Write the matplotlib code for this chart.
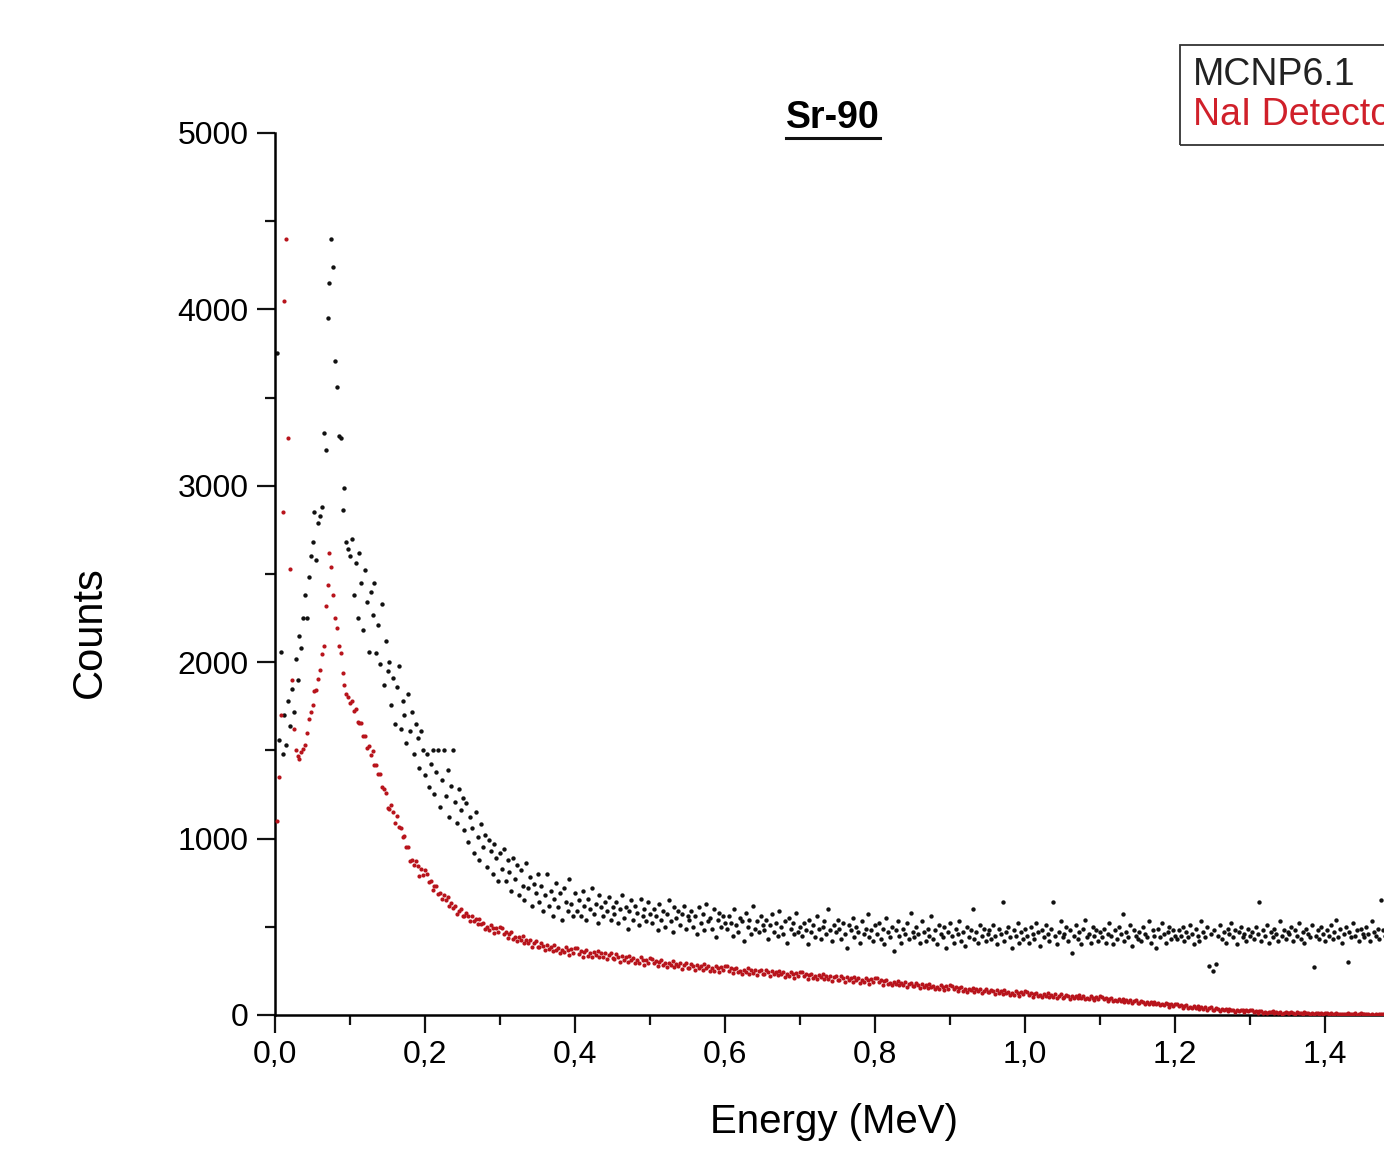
import numpy as np
import matplotlib
matplotlib.use("Agg")
import matplotlib.pyplot as plt
from matplotlib.ticker import MultipleLocator, FuncFormatter
from matplotlib.patches import Rectangle
from matplotlib.lines import Line2D

plt.rcParams['font.family'] = ['Liberation Sans', 'DejaVu Sans']

# spectrum channels, 0.0025 MeV wide
channel_width = 0.0025

# MCNP6.1 simulated counts per channel
mcnp_counts = [
    3750, 1560, 2060, 1480, 1700, 1530, 1780, 1640, 1850, 1720, 2020, 1900, 2150, 2080, 2250, 2380, 2250, 2480, 2600, 2680,
    2850, 2580, 2790, 2830, 2880, 3300, 3200, 3950, 4150, 4400, 4240, 3710, 3560, 3280, 3270, 2860, 2990, 2680, 2640, 2600,
    2700, 2380, 2560, 2250, 2620, 2450, 2180, 2520, 2340, 2060, 2400, 2270, 2450, 2050, 2210, 1990, 2330, 1870, 2120, 1950,
    2000, 1760, 1910, 1650, 1860, 1980, 1620, 1780, 1700, 1540, 1820, 1610, 1720, 1480, 1650, 1570, 1400, 1610, 1500, 1360,
    1480, 1290, 1420, 1500, 1250, 1380, 1500, 1180, 1330, 1500, 1240, 1390, 1120, 1300, 1500, 1210, 1090, 1280, 1160, 1230,
    1050, 1200, 980, 1120, 1060, 920, 1150, 1010, 880, 1080, 950, 1020, 840, 990, 930, 800, 970, 890, 760, 920,
    830, 940, 760, 880, 810, 700, 890, 770, 850, 680, 820, 730, 650, 860, 720, 780, 620, 740, 690, 800,
    640, 730, 590, 680, 800, 620, 700, 560, 660, 750, 610, 690, 540, 720, 640, 590, 770, 630, 560, 690,
    590, 650, 560, 700, 620, 540, 660, 600, 720, 570, 630, 520, 680, 610, 560, 640, 590, 670, 540, 610,
    570, 640, 520, 600, 680, 550, 610, 490, 590, 650, 540, 620, 580, 510, 660, 560, 600, 530, 640, 570,
    520, 600, 560, 480, 630, 540, 590, 500, 570, 650, 530, 470, 610, 550, 590, 510, 570, 620, 490, 560,
    540, 590, 500, 560, 460, 610, 520, 570, 480, 630, 530, 550, 490, 600, 440, 540, 580, 500, 560, 520,
    490, 560, 520, 450, 600, 510, 470, 550, 530, 420, 580, 500, 540, 460, 620, 490, 530, 470, 560, 510,
    480, 540, 430, 510, 570, 470, 520, 450, 590, 500, 460, 530, 410, 550, 490, 520, 460, 580, 470, 500,
    450, 520, 480, 400, 540, 470, 510, 440, 560, 490, 430, 500, 530, 460, 600, 480, 420, 510, 470, 540,
    490, 430, 520, 460, 380, 510, 480, 550, 440, 500, 470, 410, 530, 460, 490, 570, 440, 480, 420, 510,
    460, 520, 430, 490, 400, 550, 470, 440, 500, 360, 480, 530, 450, 410, 490, 460, 520, 430, 580, 470,
    440, 500, 460, 410, 530, 470, 420, 490, 450, 560, 430, 480, 400, 510, 460, 440, 500, 380, 470, 520,
    450, 410, 490, 460, 530, 420, 470, 390, 500, 440, 480, 600, 430, 470, 410, 510, 450, 490, 420, 460,
    480, 430, 510, 450, 400, 490, 460, 640, 420, 470, 500, 440, 380, 480, 450, 520, 410, 470, 430, 490,
    450, 410, 500, 460, 430, 520, 470, 390, 480, 440, 510, 460, 420, 490, 640, 450, 400, 470, 530, 440,
    460, 500, 420, 480, 350, 450, 510, 430, 470, 400, 490, 540, 440, 460, 410, 500, 450, 480, 420, 470,
    440, 490, 410, 460, 520, 450, 400, 480, 430, 500, 460, 570, 420, 470, 440, 510, 390, 480, 450, 430,
    470, 420, 500, 460, 440, 530, 410, 480, 450, 380, 490, 440, 520, 460, 410, 470, 500, 430, 480, 450,
    430, 480, 450, 500, 420, 470, 440, 510, 460, 400, 490, 450, 420, 530, 470, 440, 500, 280, 460, 250,
    480, 290, 450, 510, 430, 470, 410, 490, 460, 520, 440, 480, 400, 470, 500, 440, 460, 420, 490, 450,
    470, 430, 500, 460, 640, 420, 480, 450, 510, 410, 470, 440, 490, 460, 420, 530, 450, 480, 430, 470,
    460, 500, 420, 480, 450, 520, 430, 470, 410, 490, 460, 440, 510, 270, 450, 480, 430, 500, 460, 420,
    480, 450, 510, 430, 470, 540, 440, 490, 410, 460, 500, 300, 470, 440, 520, 450, 480, 420, 490, 460,
    440, 500, 460, 420, 530, 470, 450, 490, 430, 650, 480, 450, 410, 500, 460, 440, 520, 470, 430, 480,
]

# NaI detector measured counts per channel
nai_counts = [
    1100, 1350, 1700, 2850, 4050, 4400, 3270, 2530, 1900, 1620, 1500, 1470, 1450, 1490, 1510, 1530, 1600, 1680, 1720, 1760,
    1835, 1840, 1905, 1955, 2045, 2090, 2320, 2440, 2620, 2540, 2380, 2250, 2195, 2090, 2050, 1940, 1870, 1820, 1805, 1770,
    1780, 1721, 1735, 1660, 1656, 1654, 1582, 1580, 1513, 1522, 1474, 1497, 1419, 1419, 1368, 1368, 1290, 1283, 1261, 1175,
    1165, 1191, 1153, 1090, 1128, 1068, 1059, 1009, 1017, 954, 952, 873, 880, 852, 874, 846, 790, 825, 791, 820,
    800, 752, 757, 710, 730, 730, 685, 690, 658, 678, 650, 667, 617, 633, 605, 620, 573, 592, 600, 563,
    559, 580, 560, 530, 561, 531, 542, 513, 542, 514, 521, 486, 500, 483, 510, 492, 462, 491, 470, 496,
    492, 459, 473, 436, 459, 468, 433, 442, 418, 443, 426, 447, 409, 427, 407, 426, 388, 408, 417, 387,
    385, 408, 392, 366, 399, 375, 388, 364, 397, 371, 382, 351, 369, 355, 385, 369, 341, 373, 353, 380,
    379, 348, 365, 331, 356, 369, 337, 349, 328, 356, 342, 365, 328, 349, 331, 352, 315, 338, 349, 321,
    319, 343, 328, 303, 336, 312, 326, 303, 336, 311, 322, 292, 310, 296, 326, 310, 283, 314, 295, 322,
    319, 292, 307, 276, 299, 310, 281, 292, 272, 297, 284, 305, 272, 291, 276, 295, 262, 283, 294, 269,
    268, 291, 278, 255, 285, 264, 277, 256, 287, 264, 275, 248, 265, 252, 279, 266, 241, 270, 253, 278,
    275, 251, 265, 237, 258, 267, 242, 252, 235, 257, 246, 265, 235, 253, 240, 257, 227, 247, 257, 234,
    233, 254, 243, 222, 250, 231, 242, 224, 252, 231, 241, 217, 233, 221, 245, 234, 211, 238, 223, 245,
    244, 220, 233, 205, 226, 235, 209, 219, 202, 225, 213, 232, 202, 219, 206, 223, 193, 213, 223, 200,
    199, 220, 208, 187, 216, 197, 208, 189, 217, 196, 207, 183, 198, 186, 210, 200, 177, 203, 188, 210,
    207, 185, 197, 172, 190, 199, 175, 184, 169, 188, 178, 194, 168, 183, 171, 186, 159, 176, 184, 164,
    163, 181, 171, 152, 177, 160, 170, 153, 177, 159, 167, 146, 159, 148, 170, 159, 139, 162, 148, 168,
    165, 146, 157, 135, 151, 158, 138, 145, 132, 150, 140, 155, 131, 145, 134, 147, 124, 138, 147, 129,
    128, 144, 134, 118, 139, 124, 134, 119, 141, 124, 133, 113, 125, 116, 135, 126, 108, 128, 117, 134,
    133, 115, 125, 103, 119, 127, 107, 114, 101, 119, 109, 125, 101, 114, 104, 117, 94, 109, 117, 99,
    100, 113, 106, 92, 110, 98, 106, 94, 112, 98, 105, 88, 99, 91, 108, 99, 85, 102, 92, 107,
    104, 90, 97, 81, 92, 97, 82, 87, 77, 89, 82, 92, 75, 84, 76, 85, 68, 78, 83, 70,
    69, 80, 73, 61, 76, 65, 71, 60, 75, 63, 68, 54, 62, 55, 68, 61, 48, 62, 53, 65,
    64, 50, 57, 41, 52, 57, 42, 47, 37, 49, 42, 52, 35, 44, 36, 45, 28, 38, 43, 30,
    30, 40, 34, 24, 36, 28, 32, 23, 35, 26, 30, 19, 26, 20, 30, 26, 15, 26, 20, 29,
    28, 18, 24, 12, 20, 24, 14, 17, 11, 19, 15, 22, 10, 17, 11, 18, 7, 14, 18, 9,
    9, 16, 13, 5, 15, 9, 13, 6, 15, 9, 12, 5, 9, 5, 14, 10, 3, 11, 6, 14,
    13, 6, 10, 2, 8, 11, 4, 7, 3, 8, 5, 10, 3, 8, 4, 9, 0, 5, 9, 3,
    3, 8, 5, 1, 7, 2, 5, 1, 8, 3, 6, 0, 4, 1, 6, 4, 0, 5, 2, 7,
]

series_names = ["MCNP6.1", "NaI Detector"]
series_colors = ["#111111", "#b8141c"]

energy_mcnp = channel_width * np.arange(1, len(mcnp_counts) + 1)
energy_nai = channel_width * np.arange(1, len(nai_counts) + 1)

fig = plt.figure(figsize=(13.84, 11.53), dpi=100)
# axes runs past the right edge, like the cropped original
ax = fig.add_axes([0.1987, 0.1197, 0.8129, 0.765])

ax.scatter(energy_mcnp, mcnp_counts, s=10, color=series_colors[0], linewidths=0, zorder=2)
ax.scatter(energy_nai, nai_counts, s=9, color=series_colors[1], linewidths=0, zorder=3)

ax.set_xlim(0, 1.5)
ax.set_ylim(0, 5000)

for side in ["top", "right"]:
    ax.spines[side].set_visible(False)
for side in ["left", "bottom"]:
    ax.spines[side].set_linewidth(1.8)

ax.xaxis.set_major_locator(MultipleLocator(0.2))
ax.xaxis.set_minor_locator(MultipleLocator(0.1))
ax.yaxis.set_major_locator(MultipleLocator(1000))
ax.yaxis.set_minor_locator(MultipleLocator(500))
ax.xaxis.set_major_formatter(FuncFormatter(lambda v, p: f"{v:.1f}".replace(".", ",")))
ax.yaxis.set_major_formatter(FuncFormatter(lambda v, p: f"{v:.0f}"))

ax.tick_params(which="major", direction="out", length=13, width=1.6, labelsize=23, color="#111111")
ax.tick_params(which="minor", direction="out", length=7, width=1.6, color="#111111")
ax.tick_params(axis="x", which="major", pad=5)
ax.tick_params(axis="y", which="major", pad=6)

ax.set_xlabel("Energy (MeV)", fontsize=29)
ax.xaxis.set_label_coords(0.497, -0.100)
ax.set_ylabel("Counts", fontsize=30)
ax.yaxis.set_label_coords(-0.147, 0.434)

title = fig.text(0.602, 0.889, "Sr-90", ha="center", va="baseline", fontsize=27, fontweight="bold")

# legend box (text only, coloured like the series)
fig.add_artist(Rectangle((0.8526, 0.874), 0.3, 0.087, transform=fig.transFigure,
                         fill=False, edgecolor="#333333", linewidth=1.3))
fig.text(0.862, 0.926, series_names[0], color="#222222", fontsize=27, va="baseline")
fig.text(0.862, 0.8916, series_names[1], color="#d0202a", fontsize=27, va="baseline")

# underline the title
fig.canvas.draw()
bb = title.get_window_extent().transformed(fig.transFigure.inverted())
fig.add_artist(Line2D([bb.x0, bb.x1], [0.880, 0.880], transform=fig.transFigure,
                      color="#111111", linewidth=2.2))

fig.savefig("out.png", dpi=100)
